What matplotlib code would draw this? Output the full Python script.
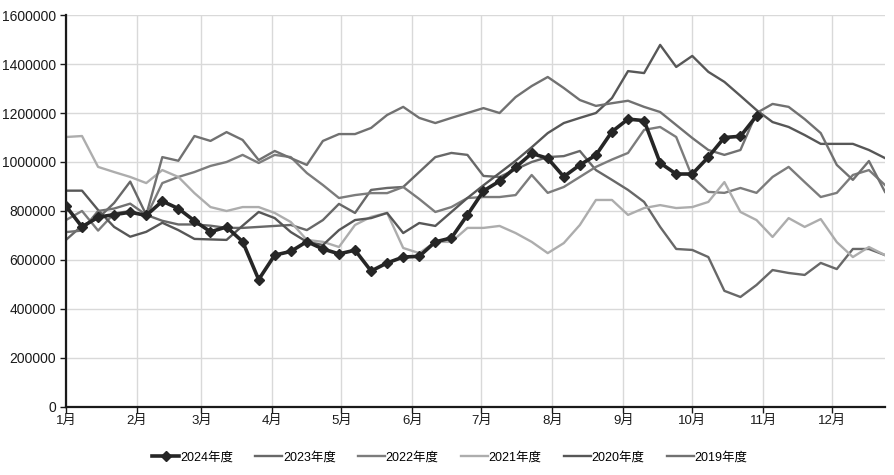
import matplotlib
matplotlib.use("Agg")
import matplotlib.pyplot as plt
import pandas as pd

plt.rcParams['font.family'] = ['Liberation Sans', 'Noto Sans CJK SC']

# weekly points, one season (values in thousands)
weeks = pd.date_range('2021-01-01', periods=52, freq='7D')
month_starts = pd.date_range('2021-01-01', periods=12, freq='MS')
month_labels = [f"{m}月" for m in range(1, 13)]

y2024 = [820, 735, 775, 785, 795, 782, 840, 810, 760, 715, 735, 675,
         520, 620, 635, 675, 645, 625, 640, 555, 588, 612, 615, 674,
         690, 784, 882, 922, 978, 1035, 1015, 940, 988, 1028, 1124, 1175,
         1169, 996, 951, 951, 1020, 1100, 1105, 1188]
y2023 = [682, 740, 770, 833, 920, 784, 760, 745, 745, 740, 731, 731,
         735, 739, 743, 722, 763, 829, 792, 886, 894, 898, 959, 1020,
         1037, 1029, 943, 939, 970, 1000, 1020, 1024, 1045, 967, 927, 886,
         837, 735, 645, 641, 612, 474, 449, 498, 559, 547, 539, 588,
         563, 645, 645, 620]
y2022 = [763, 800, 720, 790, 800, 777, 914, 939, 959, 984, 1000, 1029,
         996, 1029, 1020, 955, 906, 853, 865, 873, 873, 898, 849, 796,
         816, 853, 857, 857, 865, 947, 874, 898, 939, 980, 1010, 1037,
         1131, 1143, 1102, 939, 878, 874, 894, 874, 939, 980, 918, 857,
         874, 947, 967, 906]
y2021 = [1102, 1106, 980, 959, 939, 914, 967, 939, 873, 816, 800, 816,
         816, 792, 755, 682, 674, 653, 743, 776, 792, 649, 628, 674,
         674, 731, 731, 739, 710, 674, 628, 669, 743, 845, 845, 784,
         812, 824, 812, 816, 837, 918, 796, 763, 694, 771, 735, 767,
         673, 612, 653, 620]
y2020 = [883, 883, 804, 735, 695, 715, 752, 722, 686, 684, 682, 740,
         796, 771, 714, 674, 661, 722, 763, 771, 792, 710, 751, 739,
         796, 853, 905, 955, 1005, 1060, 1118, 1159, 1180, 1200, 1261, 1371,
         1363, 1478, 1388, 1433, 1368, 1327, 1270, 1212, 1163, 1143, 1110, 1074,
         1074, 1074, 1049, 1016]
y2019 = [714, 720, 800, 810, 830, 784, 1020, 1005, 1106, 1086, 1122, 1090,
         1008, 1045, 1016, 988, 1086, 1114, 1114, 1139, 1192, 1225, 1180, 1159,
         1180, 1200, 1220, 1200, 1265, 1310, 1347, 1302, 1253, 1229, 1240, 1250,
         1225, 1204, 1151, 1098, 1049, 1029, 1049, 1200, 1237, 1225, 1175, 1118,
         988, 927, 1004, 878]

others = [("2023年度", y2023, '#686868'),
          ("2022年度", y2022, '#7c7c7c'),
          ("2021年度", y2021, '#adadad'),
          ("2020年度", y2020, '#575757'),
          ("2019年度", y2019, '#717171')]

fig = plt.figure(figsize=(8.95, 4.75), dpi=100)
ax = fig.add_axes([0.0737, 0.1432, 0.9151, 0.8252])

ax.plot(weeks[:len(y2024)], [v * 1000 for v in y2024], color='#262626', lw=2.6,
        marker='D', markersize=5, label="2024年度", zorder=5)
for name, vals, col in others:
    ax.plot(weeks, [v * 1000 for v in vals], color=col, lw=1.7, label=name)

ax.set_xlim(weeks[0], weeks[-1])
ax.set_ylim(0, 1600000)
ax.set_yticks(range(0, 1600001, 200000))
ax.set_yticklabels([str(v) for v in range(0, 1600001, 200000)])
ax.set_xticks(month_starts)
ax.set_xticklabels(month_labels)

ax.grid(True, color='#d9d9d9', lw=1)
ax.set_axisbelow(True)
for s in ['top', 'right']:
    ax.spines[s].set_visible(False)
for s in ['left', 'bottom']:
    ax.spines[s].set_color('#1a1a1a')
    ax.spines[s].set_linewidth(1.6)
ax.tick_params(axis='y', labelsize=10, colors='#1a1a1a', length=4, width=1, pad=3)
ax.tick_params(axis='x', labelsize=9.5, colors='#1a1a1a', length=4, width=1, pad=2)

ax.legend(loc='upper center', bbox_to_anchor=(0.469, -0.085), ncol=6, frameon=False,
          fontsize=9, handlelength=2.1, columnspacing=1.8, handletextpad=0.1)

fig.savefig("out.png", dpi=100)
